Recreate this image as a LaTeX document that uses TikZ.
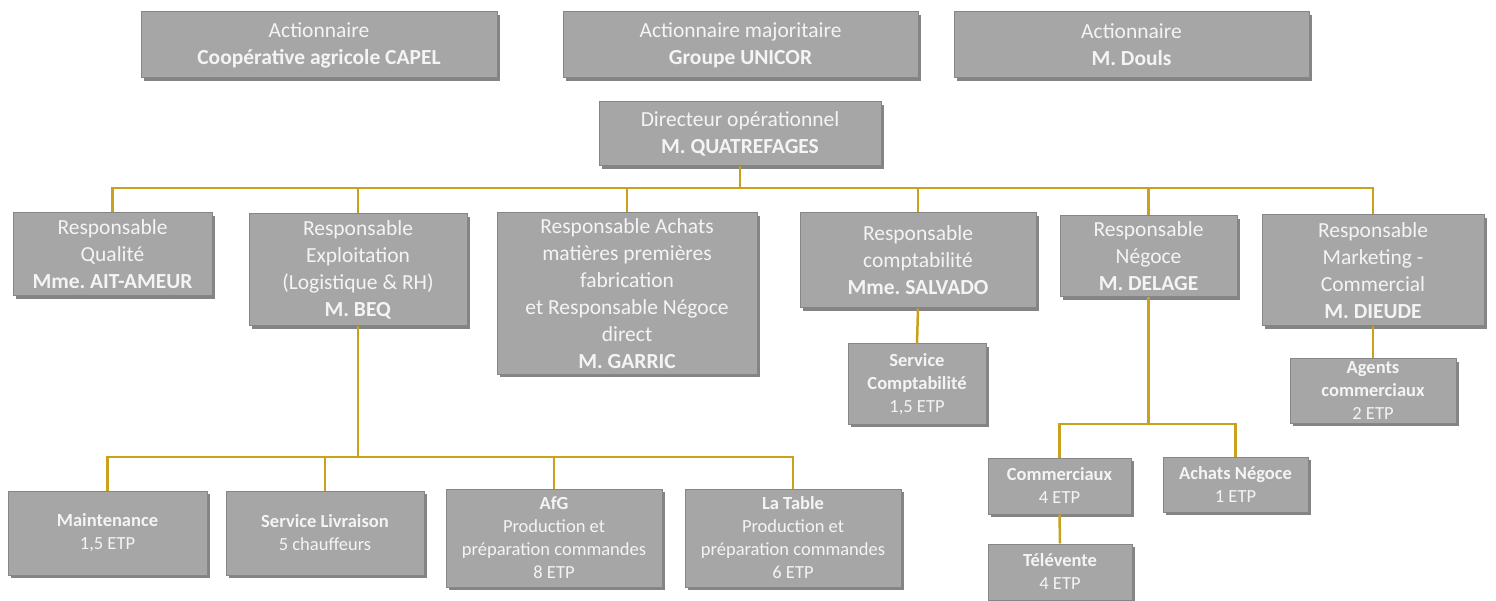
\documentclass[tikz,border=0pt]{standalone}
\usepackage{fontspec}
\setmainfont{Carlito}
\frenchspacing
\usetikzlibrary{shadows}
\definecolor{boxfill}{HTML}{A6A6A6}
\definecolor{boxline}{HTML}{868686}
\definecolor{boxshadow}{HTML}{848484}
\definecolor{gold}{HTML}{C9A11C}
\definecolor{boxtext}{HTML}{F4F4F4}
\tikzset{
  orgbox/.style={draw=boxline, line width=1pt, fill=boxfill, text=boxtext,
    align=center, inner sep=0pt,
    drop shadow={shadow xshift=3pt, shadow yshift=-3pt, fill=boxshadow, opacity=1}},
  bigbox/.style={orgbox, font=\fontsize{21.5}{27}\selectfont},
  smallbox/.style={orgbox, font=\fontsize{18.5}{23}\selectfont},
  link/.style={draw=gold, line width=2.5pt}
}
\begin{document}
\begin{tikzpicture}[x=1pt, y=-1pt]
\useasboundingbox (0,0) rectangle (1496,601);

% shareholders
\node[bigbox, minimum width=356pt, minimum height=66pt] (capel) at (319,45)
  {Actionnaire\\\textbf{Coopérative agricole CAPEL}};
\node[bigbox, minimum width=355pt, minimum height=66pt] (unicor) at (740.5,45)
  {Actionnaire majoritaire\\\textbf{Groupe UNICOR}};
\node[bigbox, minimum width=355pt, minimum height=66pt] (douls) at (1131.5,45)
  {Actionnaire\\\textbf{M. Douls}};

% management
\node[bigbox, minimum width=282pt, minimum height=64pt] (dir) at (740,134)
  {Directeur opérationnel\\\textbf{M. QUATREFAGES}};

\node[bigbox, minimum width=199pt, minimum height=83pt] (qual) at (112.5,254.5)
  {Responsable\\Qualité\\\textbf{Mme. AIT-AMEUR}};
\node[bigbox, minimum width=218pt, minimum height=112pt] (expl) at (358,270)
  {Responsable\\Exploitation\\(Logistique \& RH)\\\textbf{M. BEQ}};
\node[bigbox, minimum width=260pt, minimum height=161pt] (achat) at (627,293.5)
  {Responsable Achats\\matières premières\\fabrication\\et Responsable Négoce\\direct\\\textbf{M. GARRIC}};
\node[bigbox, minimum width=236pt, minimum height=95pt] (compta) at (918,260.5)
  {Responsable\\comptabilité\\\textbf{Mme. SALVADO}};
\node[bigbox, minimum width=177pt, minimum height=81pt] (nego) at (1148.5,256.5)
  {Responsable\\Négoce\\\textbf{M. DELAGE}};
\node[bigbox, minimum width=222pt, minimum height=111pt] (mark) at (1373,270.5)
  {Responsable\\Marketing -\\Commercial\\\textbf{M. DIEUDE}};

% services
\node[smallbox, minimum width=138pt, minimum height=80pt] (scompta) at (917,384)
  {\textbf{Service}\\\textbf{Comptabilité}\\1,5 ETP};
\node[smallbox, minimum width=166pt, minimum height=64pt] (agents) at (1373,391)
  {\textbf{Agents}\\\textbf{commerciaux}\\2 ETP};
\node[smallbox, minimum width=143pt, minimum height=56pt] (comm) at (1059.5,486)
  {\textbf{Commerciaux}\\4 ETP};
\node[smallbox, minimum width=145pt, minimum height=55pt] (achneg) at (1235.5,484.5)
  {\textbf{Achats Négoce}\\1 ETP};
\node[smallbox, minimum width=144pt, minimum height=56pt] (tele) at (1060,572)
  {\textbf{Télévente}\\4 ETP};
\node[smallbox, minimum width=199pt, minimum height=84pt] (maint) at (107.5,533)
  {\textbf{Maintenance}\\1,5 ETP};
\node[smallbox, minimum width=198pt, minimum height=84pt] (livr) at (325,533)
  {\textbf{Service Livraison}\\5 chauffeurs};
\node[smallbox, minimum width=216pt, minimum height=98pt] (afg) at (554,538)
  {\textbf{AfG}\\Production et\\préparation commandes\\8 ETP};
\node[smallbox, minimum width=216pt, minimum height=98pt] (table) at (793,538)
  {\textbf{La Table}\\Production et\\préparation commandes\\6 ETP};

% connectors
\coordinate (busA) at (740,188);
\draw[link] (dir.south) -- (busA);
\foreach \n in {qual,expl,achat,compta,nego,mark}
  \draw[link] (\n.north) |- (busA);

\coordinate (busB) at (358,457);
\draw[link] (expl.south) -- (busB);
\foreach \n in {maint,livr,afg,table}
  \draw[link] (\n.north) |- (busB);

\coordinate (busC) at (1148.5,424);
\draw[link] (nego.south) -- (busC);
\foreach \n in {comm,achneg}
  \draw[link] (\n.north) |- (busC);

\draw[link] (compta.south) -- (scompta.north);
\draw[link] (mark.south) -- (agents.north);
\draw[link] (comm.south) -- (tele.north);
\end{tikzpicture}
\end{document}
